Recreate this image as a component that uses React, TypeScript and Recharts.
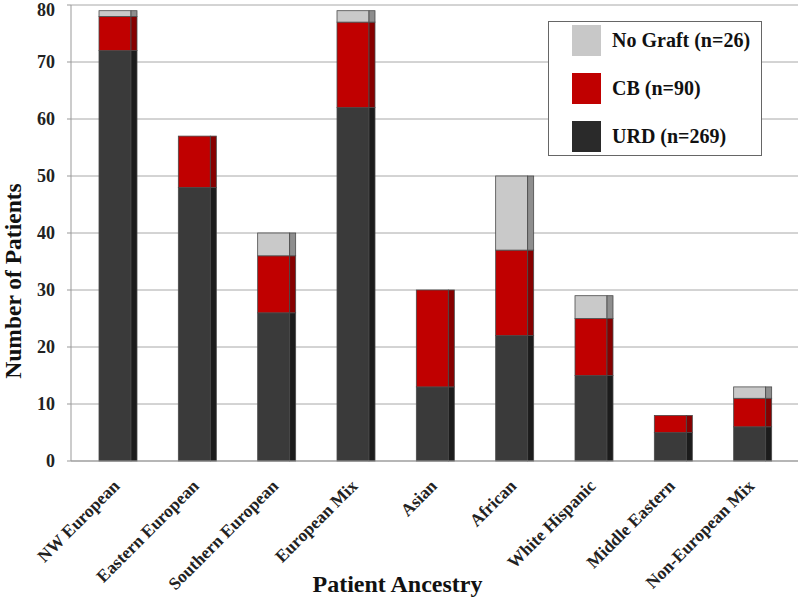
import React from "react";
import { BarChart, Bar, XAxis, YAxis, CartesianGrid, Label } from "recharts";

const categories = [
  "NW European",
  "Eastern European",
  "Southern European",
  "European Mix",
  "Asian",
  "African",
  "White Hispanic",
  "Middle Eastern",
  "Non-European Mix",
];
const urd = [72, 48, 26, 62, 13, 22, 15, 5, 6];
const cb = [6, 9, 10, 15, 17, 15, 10, 3, 5];
const noGraft = [1, 0, 4, 2, 0, 13, 4, 0, 2];
const yTicks = [0, 10, 20, 30, 40, 50, 60, 70, 80];
const legendItems = [
  { key: "noGraft", label: "No Graft (n=26)", color: "#c8c8c8" },
  { key: "cb", label: "CB (n=90)", color: "#c00000" },
  { key: "urd", label: "URD (n=269)", color: "#2a2a2a" },
];

const data = categories.map((name, i) => ({
  name,
  urd: urd[i],
  cb: cb[i],
  noGraft: noGraft[i],
}));

const FONT = "'Liberation Serif', 'Times New Roman', serif";

function makeShape(front: string, side: string) {
  return (props: any) => {
    const { x, y, width, height } = props;
    if (!height || height <= 0) return <g />;
    const d = 6;
    return (
      <g>
        <rect x={x} y={y} width={width - d} height={height} fill={front} stroke="#4a4a4a" strokeWidth={0.8} />
        <rect x={x + width - d} y={y} width={d} height={height} fill={side} stroke="#4a4a4a" strokeWidth={0.8} />
      </g>
    );
  };
}

const XTick = (props: any) => {
  const { x, y, payload } = props;
  return (
    <g transform={`translate(${x + 3},${y + 26})`}>
      <text
        x={0}
        y={0}
        textAnchor="end"
        transform="rotate(-45)"
        fontFamily={FONT}
        fontWeight="bold"
        fontSize={17.5}
        fill="#222"
      >
        {payload.value}
      </text>
    </g>
  );
};

const YTick = (props: any) => {
  const { x, y, payload } = props;
  return (
    <text
      x={x}
      y={Math.max(y, 10)}
      dy="0.35em"
      textAnchor="end"
      fontFamily={FONT}
      fontWeight="bold"
      fontSize={18}
      fill="#222"
    >
      {payload.value}
    </text>
  );
};

const LegendBox = () => (
  <div
    style={{
      position: "absolute",
      left: 548,
      top: 21,
      width: 214,
      height: 135,
      border: "1px solid #666",
      background: "#fff",
      boxSizing: "border-box",
      fontFamily: FONT,
    }}
  >
    {legendItems.map((it, i) => (
      <div
        key={it.key}
        style={{
          position: "absolute",
          left: 23,
          top: 3 + i * 48,
          height: 31,
          display: "flex",
          alignItems: "center",
        }}
      >
        <div style={{ width: 29, height: 31, background: it.color }} />
        <span style={{ marginLeft: 11, fontSize: 20, fontWeight: "bold", color: "#111", whiteSpace: "nowrap" }}>
          {it.label}
        </span>
      </div>
    ))}
  </div>
);

export default function App() {
  return (
    <div style={{ position: "absolute", left: 0, top: 0, width: 800, height: 597, background: "#fff" }}>
      <BarChart
        width={800}
        height={597}
        data={data}
        margin={{ top: 5, right: 2, left: 0, bottom: 0 }}
        barSize={38}
      >
        <CartesianGrid vertical={false} stroke="#a8a8a8" strokeWidth={1} />
        <XAxis
          dataKey="name"
          height={136}
          interval={0}
          tick={<XTick />}
          tickLine={false}
          tickSize={0}
          tickMargin={0}
          axisLine={{ stroke: "#999" }}
          padding={{ left: 7, right: 6 }}
        >
          <Label
            content={(p: any) => {
              const vb = p.viewBox;
              return (
                <text
                  x={vb.x + vb.width / 2 - 37}
                  y={vb.y + vb.height - 5}
                  textAnchor="middle"
                  fontFamily={FONT}
                  fontWeight="bold"
                  fontSize={24}
                  fill="#111"
                >
                  Patient Ancestry
                </text>
              );
            }}
          />
        </XAxis>
        <YAxis
          width={71}
          domain={[0, 80]}
          ticks={yTicks}
          interval={0}
          tickSize={4}
          tickMargin={12}
          tickLine={{ stroke: "#999" }}
          axisLine={{ stroke: "#999" }}
          tick={<YTick />}
        >
          <Label
            content={(p: any) => {
              const vb = p.viewBox;
              const cx = vb.x + 21;
              const cy = vb.y + vb.height / 2 + 48;
              return (
                <text
                  x={cx}
                  y={cy}
                  textAnchor="middle"
                  transform={`rotate(-90 ${cx} ${cy})`}
                  fontFamily={FONT}
                  fontWeight="bold"
                  fontSize={23.5}
                  fill="#111"
                >
                  Number of Patients
                </text>
              );
            }}
          />
        </YAxis>
        <Bar dataKey="urd" stackId="a" isAnimationActive={false} shape={makeShape("#3a3a3a", "#1c1c1c")} />
        <Bar dataKey="cb" stackId="a" isAnimationActive={false} shape={makeShape("#c00000", "#860000")} />
        <Bar dataKey="noGraft" stackId="a" isAnimationActive={false} shape={makeShape("#c9c9c9", "#8e8e8e")} />
      </BarChart>
      <LegendBox />
    </div>
  );
}
